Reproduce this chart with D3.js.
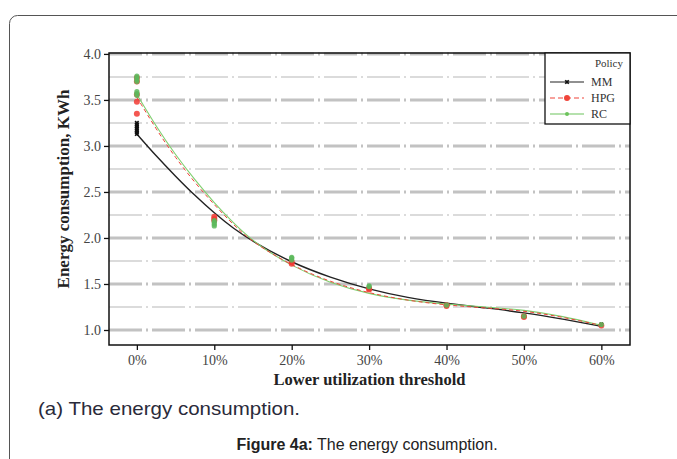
<!DOCTYPE html>
<html lang="en">
<head>
    <meta charset="UTF-8">
    <title>Energy consumption</title>
    <script src="https://d3js.org/d3.v7.min.js"></script>
    <style>
        body {
            margin: 0;
            padding: 0;
            background-color: #fff;
        }
        svg { display: block; }
    </style>
</head>
<body>
    <svg id="chart" width="677" height="459"></svg>

    <script>
        // thresholds (%) for the fitted curves
        const curveX = [0, 2.5, 5, 7.5, 10, 12.5, 15, 20, 25, 30, 35, 40, 45, 50, 55, 60];
        const mmCurve  = [3.13, 2.89, 2.67, 2.46, 2.27, 2.10, 1.96, 1.73, 1.57, 1.44, 1.35, 1.29, 1.24, 1.19, 1.12, 1.04];
        const hpgCurve = [3.53, 3.18, 2.87, 2.60, 2.36, 2.14, 1.95, 1.70, 1.52, 1.40, 1.32, 1.27, 1.24, 1.21, 1.14, 1.05];
        const rcCurve  = [3.56, 3.21, 2.90, 2.63, 2.38, 2.16, 1.96, 1.69, 1.51, 1.39, 1.32, 1.28, 1.25, 1.22, 1.15, 1.05];

        // observed runs at each threshold: [threshold, value]
        const mmPoints = [[0, 3.13], [0, 3.15], [0, 3.17], [0, 3.19], [0, 3.21], [0, 3.23], [0, 3.25],
            [10, 2.20], [20, 1.74], [30, 1.45], [40, 1.27], [50, 1.15], [60, 1.06]];
        const hpgPoints = [[0, 3.35], [0, 3.48], [0, 3.56], [0, 3.70], [0, 3.74],
            [10, 2.19], [10, 2.21], [10, 2.23], [20, 1.72], [20, 1.74], [30, 1.44], [30, 1.45],
            [40, 1.26], [40, 1.27], [50, 1.14], [50, 1.15], [60, 1.05]];
        const rcPoints = [[0, 3.55], [0, 3.57], [0, 3.59], [0, 3.70], [0, 3.72], [0, 3.74], [0, 3.76],
            [10, 2.13], [10, 2.15], [10, 2.17], [10, 2.19], [20, 1.76], [20, 1.78], [20, 1.79],
            [30, 1.47], [30, 1.48], [40, 1.27], [50, 1.15], [60, 1.06]];

        const xTicks = [0, 10, 20, 30, 40, 50, 60];
        const yMajor = [1.0, 1.5, 2.0, 2.5, 3.0, 3.5, 4.0];
        const yMinor = [1.25, 1.75, 2.25, 2.75, 3.25, 3.75];
        const policies = ["MM", "HPG", "RC"];

        const svg = d3.select("#chart");
        const serif = "'Liberation Serif', 'DejaVu Serif', serif";

        // card border
        svg.append("rect")
            .attr("x", 9.5).attr("y", 15.5)
            .attr("width", 700).attr("height", 480)
            .attr("rx", 8)
            .attr("fill", "none")
            .attr("stroke", "#555")
            .attr("stroke-width", 1);

        const plot = { left: 109, right: 630, top: 53, bottom: 345 };

        const x = d3.scaleLinear().domain([-3.6, 63.7]).range([plot.left, plot.right]);
        const y = d3.scaleLinear().domain([0.837, 4.01]).range([plot.bottom, plot.top]);

        // grid
        svg.append("g").selectAll("line")
            .data(yMinor).enter().append("line")
            .attr("x1", plot.left).attr("x2", plot.right)
            .attr("y1", d => y(d)).attr("y2", d => y(d))
            .attr("stroke", "#cfcfcf").attr("stroke-width", 1.5)
            .attr("stroke-dasharray", "33,4,2,4");
        svg.append("g").selectAll("line")
            .data(yMajor).enter().append("line")
            .attr("x1", plot.left).attr("x2", plot.right)
            .attr("y1", d => y(d)).attr("y2", d => y(d))
            .attr("stroke", "#c2c2c2").attr("stroke-width", 3)
            .attr("stroke-dasharray", "33,4,2,4");

        // frame
        svg.append("rect")
            .attr("x", plot.left).attr("y", plot.top)
            .attr("width", plot.right - plot.left).attr("height", plot.bottom - plot.top)
            .attr("fill", "none").attr("stroke", "#111").attr("stroke-width", 1.5);

        // axes
        const xAxis = svg.append("g")
            .attr("transform", `translate(0,${plot.bottom})`)
            .call(d3.axisBottom(x).tickValues(xTicks).tickSize(5).tickFormat(d => d + "%"));
        const yAxis = svg.append("g")
            .attr("transform", `translate(${plot.left},0)`)
            .call(d3.axisLeft(y).tickValues(yMajor).tickSize(5).tickFormat(d3.format(".1f")));
        [xAxis, yAxis].forEach(g => {
            g.select(".domain").remove();
            g.selectAll("line").attr("stroke", "#111").attr("stroke-width", 1.3);
            g.selectAll("text").attr("font-family", serif).attr("font-size", 14).attr("fill", "#444");
        });
        xAxis.selectAll("text").attr("dy", "0.85em");

        // axis titles
        svg.append("text")
            .attr("x", (plot.left + plot.right) / 2).attr("y", 385)
            .attr("text-anchor", "middle")
            .attr("font-family", serif).attr("font-weight", "bold").attr("font-size", 16.5)
            .attr("fill", "#222")
            .text("Lower utilization threshold");
        svg.append("text")
            .attr("transform", `translate(69,${(plot.top + plot.bottom) / 2 - 10}) rotate(-90)`)
            .attr("text-anchor", "middle")
            .attr("font-family", serif).attr("font-weight", "bold").attr("font-size", 17)
            .attr("fill", "#222")
            .text("Energy consumption, KWh");

        // curves
        const line = d3.line()
            .x((d, i) => x(curveX[i]))
            .y(d => y(d))
            .curve(d3.curveBasis);

        svg.append("path").datum(mmCurve).attr("d", line)
            .attr("fill", "none").attr("stroke", "#222").attr("stroke-width", 1.4);
        svg.append("path").datum(rcCurve).attr("d", line)
            .attr("fill", "none").attr("stroke", "#7fcf6f").attr("stroke-width", 1.1);
        svg.append("path").datum(hpgCurve).attr("d", line)
            .attr("fill", "none").attr("stroke", "#f0443a").attr("stroke-width", 1)
            .attr("stroke-dasharray", "4,3");

        // points
        const mmSym = d3.symbol().type(d3.symbolCross).size(14);
        svg.append("g").selectAll("path")
            .data(mmPoints).enter().append("path")
            .attr("d", mmSym)
            .attr("transform", d => `translate(${x(d[0])},${y(d[1])}) rotate(45)`)
            .attr("fill", "#111");
        svg.append("g").selectAll("circle")
            .data(hpgPoints).enter().append("circle")
            .attr("cx", d => x(d[0])).attr("cy", d => y(d[1]))
            .attr("r", 3)
            .attr("fill", "#f23a32").attr("fill-opacity", 0.85);
        svg.append("g").selectAll("circle")
            .data(rcPoints).enter().append("circle")
            .attr("cx", d => x(d[0])).attr("cy", d => y(d[1]))
            .attr("r", 2.6)
            .attr("fill", "#5cb85c").attr("fill-opacity", 0.85);

        // legend
        const lg = svg.append("g").attr("transform", "translate(545,53)");
        lg.append("rect")
            .attr("width", 85).attr("height", 71)
            .attr("fill", "#fff").attr("stroke", "#111").attr("stroke-width", 1.3);
        lg.append("text")
            .attr("x", 78).attr("y", 14)
            .attr("text-anchor", "end")
            .attr("font-family", serif).attr("font-size", 11).attr("fill", "#333")
            .text("Policy");
        const colors = { MM: "#222", HPG: "#f0443a", RC: "#6cc35c" };
        policies.forEach((p, i) => {
            const gy = 29 + i * 16;
            const row = lg.append("g").attr("transform", `translate(0,${gy})`);
            row.append("line")
                .attr("x1", 5).attr("x2", 39).attr("y1", 0).attr("y2", 0)
                .attr("stroke", colors[p]).attr("stroke-width", 1.2)
                .attr("stroke-dasharray", p === "HPG" ? "5,3" : null);
            if (p === "MM") {
                row.append("path").attr("d", mmSym).attr("transform", "translate(22,0) rotate(45)").attr("fill", "#111");
            } else {
                row.append("circle").attr("cx", 22).attr("cy", 0).attr("r", p === "HPG" ? 3 : 2)
                    .attr("fill", colors[p]);
            }
            row.append("text")
                .attr("x", 46).attr("y", 4)
                .attr("font-family", serif).attr("font-size", 12).attr("fill", "#333")
                .text(p);
        });

        // captions
        svg.append("text")
            .attr("x", 38).attr("y", 415)
            .attr("font-family", "'Liberation Sans', Arial, sans-serif")
            .attr("font-size", 19).attr("fill", "#2a2a3a")
            .attr("textLength", 262).attr("lengthAdjust", "spacingAndGlyphs")
            .text("(a) The energy consumption.");
        const cap = svg.append("text")
            .attr("x", 367).attr("y", 450)
            .attr("text-anchor", "middle")
            .attr("font-family", "'Liberation Sans', Arial, sans-serif")
            .attr("font-size", 16).attr("fill", "#222");
        cap.append("tspan").attr("font-weight", "bold").text("Figure 4a:");
        cap.append("tspan").text(" The energy consumption.");
    </script>
</body>
</html>
